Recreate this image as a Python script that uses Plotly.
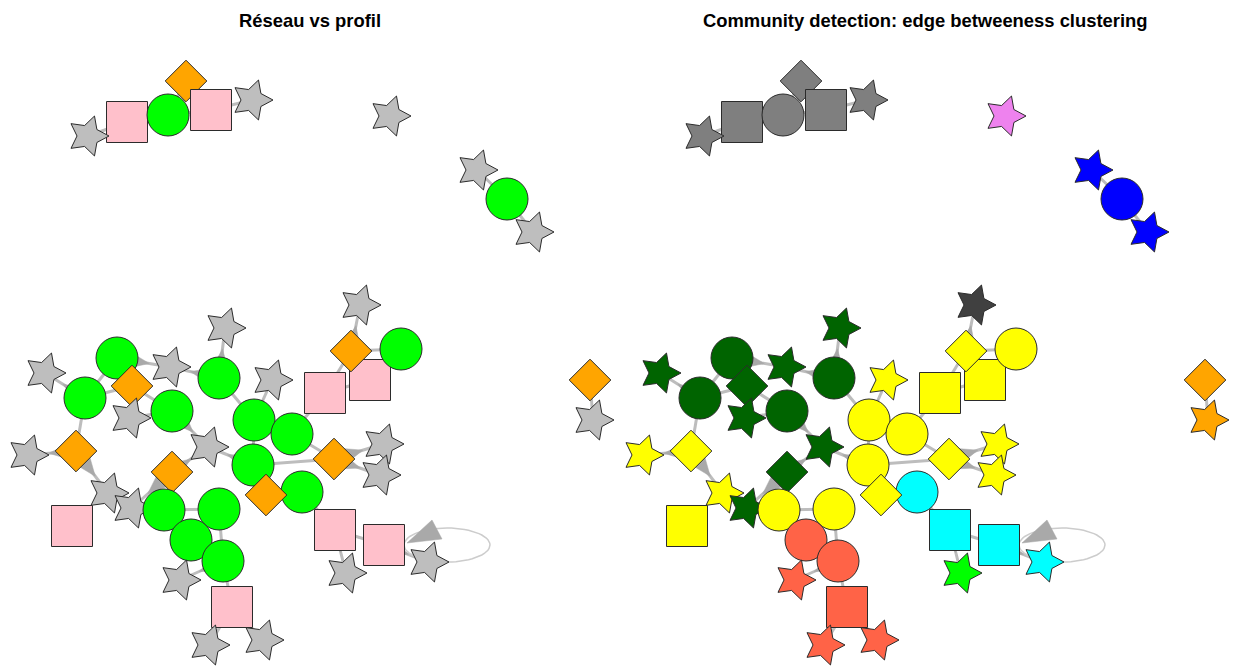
import math
import plotly.graph_objects as go

# ---------------- data ----------------
node_name = ["A2", "A1", "A3", "A4", "A5", "A6", "B1", "C1", "C2", "C3", "D1", "D2",
             "m1", "m2", "m3", "m4", "m5", "m6", "m7", "m8", "m9", "m10", "m11", "m12", "m13", "m14",
             "m15", "m19", "m16", "m17", "m18", "m20", "m21", "m22", "m23", "m24", "m25", "m26", "m27",
             "m28", "m29", "m30", "m31", "m32", "m33", "m34", "m35", "m36", "m38", "m37", "m39", "m40",
             "m41", "m42"]
node_profil = ["square", "star", "circle", "diamond", "square", "star", "star", "star", "circle", "star",
               "diamond", "star",
               "star", "circle", "circle", "diamond", "star", "star", "circle", "star", "circle", "diamond",
               "star", "star", "diamond", "circle",
               "star", "square", "diamond", "circle", "square", "star", "circle", "circle", "diamond", "star",
               "star", "star", "star",
               "square", "circle", "circle", "circle", "circle", "star", "square", "star", "star", "circle",
               "diamond", "square", "square", "star", "star"]
layout_x = [127, 88, 168, 186, 211, 252, 390, 477, 507, 533, 590, 593,
            45, 117, 85, 132, 170, 130, 172, 225, 219, 76, 28, 208, 172, 254,
            360, 370, 351, 401, 325, 272, 292, 253, 334, 383, 380, 108, 132,
            72, 164, 219, 191, 223, 180, 232, 209, 263, 302, 266, 335, 384, 346, 428]
layout_y = [122, 136, 115, 81, 110, 100, 116, 170, 199, 232, 380, 420,
            373, 358, 398, 386, 367, 418, 411, 328, 378, 451, 455, 447, 472, 420,
            305, 380, 351, 349, 393, 380, 434, 465, 459, 444, 475, 493, 508,
            526, 510, 509, 540, 561, 580, 607, 645, 640, 492, 495, 530, 545, 573, 562]
community = [1, 1, 1, 1, 1, 1, 2, 3, 3, 3, 4, 4,
             5, 5, 5, 5, 5, 5, 5, 5, 5, 6, 6, 5, 5, 6,
             10, 6, 6, 6, 6, 6, 6, 6, 6, 6, 6, 6, 5,
             6, 6, 6, 7, 7, 7, 7, 7, 7, 8, 6, 8, 8, 9, 8]

plain_edges = [("A2", "A3"), ("A3", "A4"), ("A3", "A5"),
               ("m2", "m3"), ("m2", "m4"), ("m3", "m4"), ("m3", "m10"), ("m4", "m7"), ("m9", "m14"),
               ("m14", "m21"), ("m14", "m22"), ("m29", "m30"), ("m29", "m31"), ("m30", "m32"),
               ("m31", "m32"), ("m32", "m34"), ("m21", "m23"), ("m22", "m23"), ("m22", "m37"),
               ("m37", "m38"), ("m38", "m39"), ("m39", "m40"), ("m18", "m16"), ("m16", "m17"),
               ("m18", "m19"), ("m17", "m19"), ("m18", "m21")]
arrow_edges = [("A2", "A1"), ("A5", "A6"), ("C2", "C1"), ("C2", "C3"), ("D1", "D2"),
               ("m3", "m1"), ("m2", "m5"), ("m9", "m5"), ("m7", "m6"), ("m7", "m12"), ("m9", "m8"),
               ("m10", "m11"), ("m10", "m26"), ("m14", "m20"), ("m22", "m12"), ("m13", "m12"),
               ("m13", "m27"), ("m32", "m33"), ("m34", "m35"), ("m34", "m36"), ("m23", "m24"),
               ("m23", "m25"), ("m16", "m15"), ("m39", "m41"), ("m40", "m42")]
loop_nodes = ["m40"]

titles = ["Réseau vs profil", "Community detection: edge betweeness clustering"]

# ---------------- styles ----------------
profil_color = {"circle": "#00FF00", "square": "#FFC0CB", "diamond": "#FFA500", "star": "#BEBEBE"}
community_color = {1: "#7F7F7F", 2: "#EE82EE", 3: "#0000FF", 4: "#FFA500", 5: "#006400",
                   6: "#FFFF00", 7: "#FF6347", 8: "#00FFFF", 9: "#00FF00", 10: "#404040"}
symbol_of = {"circle": "circle", "square": "square", "diamond": "diamond"}
size_of = {"circle": 42, "square": 41, "diamond": 32}
NODE_R = 21
STAR_R, STAR_r = 21, 11
ARROW_LEN = 19
ARROW_HALF = 7.5
EDGE_COLOR = "#BDBDBD"
ARROW_COLOR = "#A9A9A9"
OUTLINE = "#2b2b2b"

pos = {n: (x, y) for n, x, y in zip(node_name, layout_x, layout_y)}

# edge line geometry
ex, ey = [], []
for s, t in plain_edges + arrow_edges:
    ex += [pos[s][0], pos[t][0], None]
    ey += [pos[s][1], pos[t][1], None]

# arrowhead triangles
axs, ays = [], []
for s, t in arrow_edges:
    sx, sy = pos[s]
    tx, ty = pos[t]
    d = math.hypot(tx - sx, ty - sy)
    ux, uy = (tx - sx) / d, (ty - sy) / d
    tipx, tipy = tx - ux * NODE_R, ty - uy * NODE_R
    bx, by = tipx - ux * ARROW_LEN, tipy - uy * ARROW_LEN
    px, py = -uy, ux
    axs += [tipx, bx + px * ARROW_HALF, bx - px * ARROW_HALF, tipx, None]
    ays += [tipy, by + py * ARROW_HALF, by - py * ARROW_HALF, tipy, None]

# self loops
lx, ly = [], []
for n in loop_nodes:
    x0, y0 = pos[n]
    cx, cy, rx, ry = x0 + 63, y0, 43, 17
    for k in range(61):
        a = math.pi - 2 * math.pi * k / 60
        lx.append(cx + rx * math.cos(a))
        ly.append(cy + ry * math.sin(a))
    lx.append(None); ly.append(None)
    axs += [x0 + 23, x0 + 48, x0 + 58, x0 + 23, None]
    ays += [y0 - 2, y0 - 25, y0 - 6, y0 - 2, None]


def star_path(cx, cy):
    xs, ys = [], []
    for k in range(11):
        r = STAR_R if k % 2 == 0 else STAR_r
        a = -math.pi * k / 5  # first ray points right, counter-clockwise on screen
        xs.append(cx + r * math.cos(a))
        ys.append(cy + r * math.sin(a))
    return xs, ys


fig = go.Figure()

for k, (xa, ya) in enumerate([("x", "y"), ("x2", "y2")]):
    fig.add_trace(go.Scatter(x=ex, y=ey, mode="lines", xaxis=xa, yaxis=ya,
                             line=dict(color=EDGE_COLOR, width=3), hoverinfo="skip", showlegend=False))
    fig.add_trace(go.Scatter(x=lx, y=ly, mode="lines", xaxis=xa, yaxis=ya,
                             line=dict(color="#CCCCCC", width=1.5), hoverinfo="skip", showlegend=False))
    fig.add_trace(go.Scatter(x=axs, y=ays, mode="lines", fill="toself", fillcolor=ARROW_COLOR,
                             xaxis=xa, yaxis=ya, line=dict(color=ARROW_COLOR, width=0.5),
                             hoverinfo="skip", showlegend=False))
    for i, name in enumerate(node_name):
        p = node_profil[i]
        col = profil_color[p] if k == 0 else community_color[community[i]]
        x0, y0 = layout_x[i], layout_y[i]
        if p == "star":
            sx, sy = star_path(x0, y0)
            fig.add_trace(go.Scatter(x=sx, y=sy, mode="lines", fill="toself", fillcolor=col,
                                     line=dict(color=OUTLINE, width=1), xaxis=xa, yaxis=ya,
                                     name=name, hoverinfo="name", showlegend=False))
        else:
            fig.add_trace(go.Scatter(
                x=[x0], y=[y0], mode="markers", xaxis=xa, yaxis=ya, name=name,
                marker=dict(symbol=symbol_of[p], size=size_of[p], color=col, opacity=1,
                            line=dict(color=OUTLINE, width=1)),
                hoverinfo="name", showlegend=False))

W, H = 1233, 669
title_font = dict(family="Liberation Sans, Arial", size=18.4, color="black")
fig.update_layout(
    width=W, height=H, margin=dict(l=0, r=0, t=0, b=0),
    paper_bgcolor="white", plot_bgcolor="white",
    xaxis=dict(domain=[0, 0.5], range=[0, 616.5], visible=False),
    xaxis2=dict(domain=[0.5, 1], range=[1.5, 618], visible=False),
    yaxis=dict(domain=[0, 1], range=[H, 0], visible=False),
    yaxis2=dict(domain=[0, 1], range=[H, 0], visible=False, anchor="x2"),
    annotations=[
        dict(text="<b>%s</b>" % titles[0], x=0.2515, y=1 - 20.5 / H, xref="paper", yref="paper",
             xanchor="center", yanchor="middle", showarrow=False, font=title_font),
        dict(text="<b>%s</b>" % titles[1], x=0.7505, y=1 - 20.5 / H, xref="paper", yref="paper",
             xanchor="center", yanchor="middle", showarrow=False, font=title_font),
    ],
)

fig.write_html("out.html", config={"displayModeBar": False},
               post_script="document.body.style.margin='0';document.body.style.overflow='hidden';")
